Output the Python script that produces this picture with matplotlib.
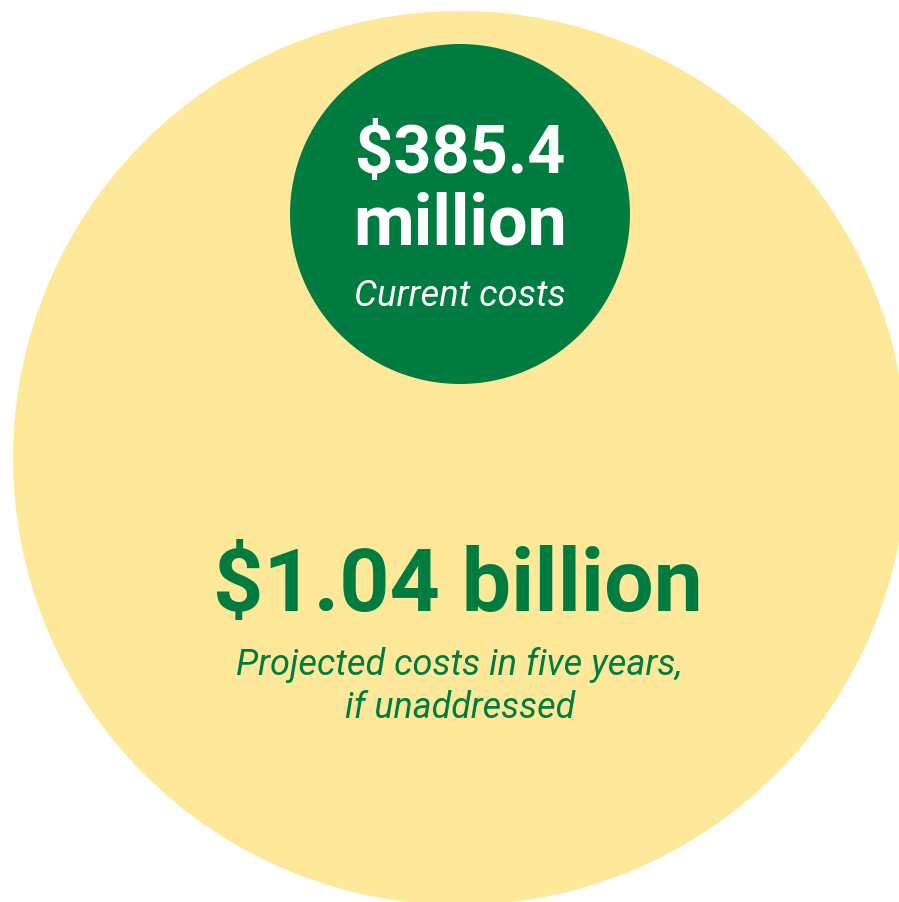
import matplotlib
matplotlib.use("Agg")
import matplotlib.pyplot as plt
from matplotlib.patches import Circle

# ---- data ----
categories = ["Current costs", "Projected costs in five years,\nif unaddressed"]
values_millions = [385.4, 1040.0]
value_labels = ["$385.4\nmillion", "$1.04 billion"]

GREEN = "#007C41"
YELLOW = "#FEE99A"

W, H = 899, 903
fig = plt.figure(figsize=(W / 100, H / 100), dpi=100)
ax = fig.add_axes([0, 0, 1, 1])
ax.set_xlim(0, W)
ax.set_ylim(H, 0)
ax.axis("off")

# circles (positions in pixel coordinates)
ax.add_patch(Circle((460, 459), 447, facecolor=YELLOW, edgecolor="none"))
ax.add_patch(Circle((460, 215), 170, facecolor=GREEN, edgecolor="none"))

FAM = ["Roboto", "DejaVu Sans"]

items = []
def add(txt, x, y, target_w, color, weight="bold", style="normal"):
    t = ax.text(x, y, txt, ha="center", va="baseline", color=color,
                fontsize=40, fontweight=weight, fontstyle=style, family=FAM)
    items.append((t, target_w))

small_top = value_labels[0].split("\n")
add(small_top[0], 460, 173, 210, "white")
add(small_top[1], 460, 245, 214, "white")
add(categories[0], 459.5, 306, 211, "white", weight="normal", style="italic")

add(value_labels[1], 458, 611, 490, GREEN)
sub = categories[1].split("\n")
add(sub[0], 459.5, 675, 445, GREEN, weight="normal", style="italic")
add(sub[1], 460, 718, 230, GREEN, weight="normal", style="italic")

fig.canvas.draw()
r = fig.canvas.get_renderer()
for t, tw in items:
    w = t.get_window_extent(r).width
    t.set_fontsize(40 * tw / w)

fig.savefig("out.png", dpi=100, facecolor="white")
